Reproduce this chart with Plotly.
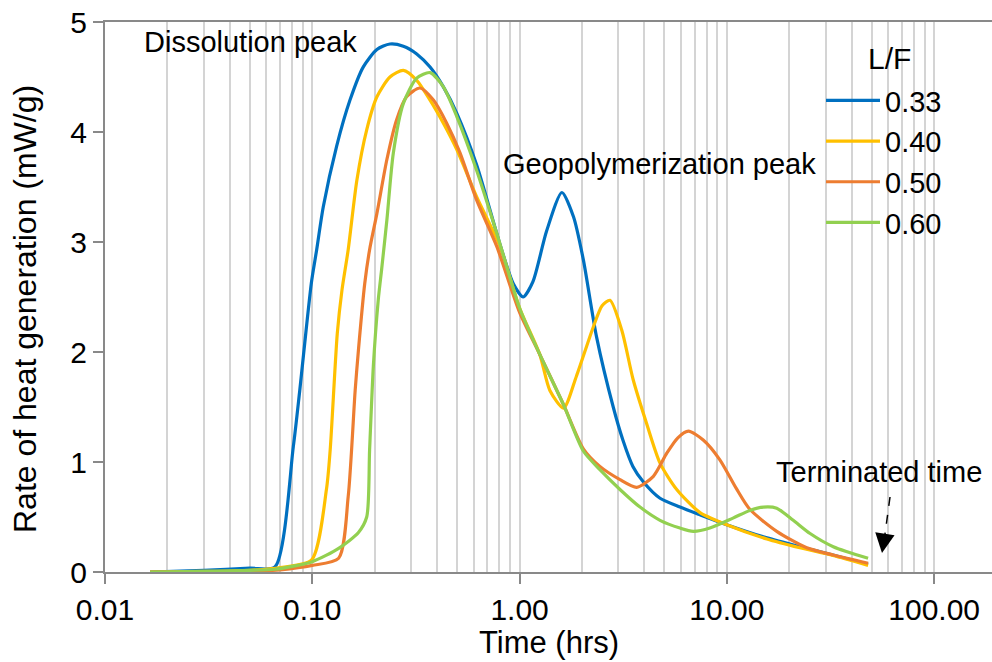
import plotly.graph_objects as go

# ---- data (time in hrs, rate in mW/g) ----
lf_labels = ["0.33", "0.40", "0.50", "0.60"]
colors = ["#0070C0", "#FFC000", "#ED7D31", "#92D050"]

t_033 = [0.0165, 0.03, 0.05, 0.066, 0.081, 0.087, 0.099, 0.105, 0.113, 0.131, 0.152, 0.176, 0.205, 0.237, 0.275,
         0.319, 0.370, 0.429, 0.498, 0.621, 0.804, 0.933, 1.04, 1.16, 1.35, 1.60, 1.82, 2.03, 2.35, 2.83, 3.15,
         3.52, 3.95, 4.76, 5.94, 7.42, 9.98, 15.6, 22.5, 32.5, 48]
y_033 = [0.0, 0.015, 0.035, 0.045, 1.14, 1.65, 2.63, 2.93, 3.32, 3.87, 4.29, 4.59, 4.75, 4.80, 4.78,
         4.71, 4.59, 4.41, 4.17, 3.70, 2.98, 2.62, 2.50, 2.64, 3.10, 3.45, 3.23, 2.84, 2.14, 1.50, 1.20,
         0.96, 0.82, 0.67, 0.59, 0.52, 0.43, 0.31, 0.23, 0.155, 0.07]

t_040 = [0.0165, 0.03, 0.05, 0.07, 0.0993, 0.117, 0.122, 0.132, 0.139, 0.149, 0.164, 0.183, 0.205, 0.237, 0.275,
         0.319, 0.370, 0.429, 0.498, 0.621, 0.804, 1.0, 1.25, 1.40, 1.63, 1.88, 2.27, 2.50, 2.73, 3.11, 3.53,
         4.10, 4.76, 5.73, 7.42, 9.98, 15.6, 22.5, 32.5, 48]
y_040 = [0.0, 0.005, 0.015, 0.04, 0.11, 0.75, 1.11, 2.17, 2.56, 2.93, 3.56, 4.02, 4.32, 4.50, 4.56,
         4.47, 4.29, 4.08, 3.84, 3.41, 2.96, 2.40, 1.98, 1.65, 1.49, 1.78, 2.23, 2.42, 2.47, 2.20, 1.75,
         1.35, 0.99, 0.75, 0.54, 0.43, 0.30, 0.22, 0.15, 0.06]

t_050 = [0.0165, 0.03, 0.05, 0.07, 0.1, 0.134, 0.149, 0.161, 0.167, 0.179, 0.189, 0.205, 0.229, 0.255, 0.285,
         0.331, 0.384, 0.445, 0.516, 0.621, 0.776, 1.0, 1.25, 1.63, 2.03, 2.44, 3.05, 3.67, 4.42, 5.13, 5.80,
         6.52, 7.69, 9.25, 11.1, 12.9, 17.4, 24.3, 32.6, 48]
y_050 = [0.0, 0.0, 0.005, 0.02, 0.06, 0.125, 0.685, 1.65, 2.02, 2.62, 2.93, 3.26, 3.75, 4.11, 4.32,
         4.40, 4.29, 4.08, 3.81, 3.38, 2.96, 2.36, 1.98, 1.52, 1.12, 0.96, 0.84, 0.77, 0.87, 1.08, 1.22,
         1.28, 1.20, 1.02, 0.76, 0.57, 0.37, 0.22, 0.155, 0.08]

t_060 = [0.0165, 0.03, 0.05, 0.066, 0.1, 0.134, 0.167, 0.183, 0.189, 0.197, 0.208, 0.216, 0.229, 0.246, 0.275,
         0.319, 0.370, 0.429, 0.498, 0.621, 0.776, 1.0, 1.25, 1.63, 2.03, 2.44, 3.05, 3.81, 4.76, 5.94, 6.89,
         8.28, 10.7, 12.9, 15.0, 17.4, 20.9, 25.2, 32.6, 48]
y_060 = [0.0, 0.005, 0.015, 0.025, 0.094, 0.215, 0.36, 0.50, 1.11, 1.87, 2.47, 2.75, 3.20, 3.81, 4.26,
         4.49, 4.54, 4.41, 4.14, 3.65, 3.08, 2.40, 1.98, 1.52, 1.10, 0.93, 0.75, 0.59, 0.47, 0.40, 0.37,
         0.40, 0.49, 0.56, 0.59, 0.58, 0.47, 0.35, 0.23, 0.125]

series_t = [t_033, t_040, t_050, t_060]
series_y = [y_033, y_040, y_050, y_060]

x_tickvals = [0.01, 0.1, 1, 10, 100]
x_ticktext = ["0.01", "0.10", "1.00", "10.00", "100.00"]
x_minor = [m * d for d in [0.01, 0.1, 1, 10] for m in range(2, 10)]
y_tickvals = [0, 1, 2, 3, 4, 5]

FONT = "Arial, Liberation Sans, sans-serif"
AXIS_COL = "#898989"
GRID_COL = "#D4D4D4"

fig = go.Figure()
for lab, col, tx, ty in zip(lf_labels, colors, series_t, series_y):
    fig.add_trace(go.Scatter(
        x=tx, y=ty, mode="lines", name=lab,
        line=dict(color=col, width=3.2, shape="spline", smoothing=0.7),
    ))

W, H = 992, 662
L, R, T, B = 105, 0, 22, 90
pw, ph = W - L - R, H - T - B


def px(xp):
    return (xp - L) / pw


def py(yp):
    return (H - B - yp) / ph


fig.update_layout(
    width=W, height=H,
    margin=dict(l=L, r=R, t=T, b=B, pad=0),
    paper_bgcolor="white", plot_bgcolor="white",
    font=dict(family=FONT, color="black", size=29),
    xaxis=dict(
        type="log", range=[-2, 2.279],
        tickvals=x_tickvals, ticktext=x_ticktext,
        tickfont=dict(size=30),
        ticks="outside", ticklen=10, tickwidth=1.5, tickcolor=AXIS_COL,
        showline=True, linecolor=AXIS_COL, linewidth=2, mirror=True,
        showgrid=True, gridcolor=GRID_COL, gridwidth=1.5,
        minor=dict(tickvals=x_minor, showgrid=True, gridcolor=GRID_COL, gridwidth=1.5, ticks=""),
        zeroline=False,
    ),
    yaxis=dict(
        range=[0, 5], tickvals=y_tickvals,
        tickfont=dict(size=30),
        ticks="outside", ticklen=10, tickwidth=1.5, tickcolor=AXIS_COL,
        showline=True, linecolor=AXIS_COL, linewidth=2,
        showgrid=False, zeroline=False,
    ),
    legend=dict(
        x=px(821), y=py(75), xanchor="left", yanchor="top",
        bgcolor="rgba(0,0,0,0)", borderwidth=0,
        font=dict(size=29), itemwidth=54,
    ),
    showlegend=True,
)

# axis titles
fig.add_annotation(x=px(549), y=py(642), xref="paper", yref="paper", text="Time (hrs)",
                   showarrow=False, xanchor="center", yanchor="middle", font=dict(size=31))
fig.add_annotation(x=-80 / pw, y=py(309), xref="paper", yref="paper", text="Rate of heat generation (mW/g)",
                   showarrow=False, xanchor="center", yanchor="middle", textangle=-90, font=dict(size=32))
# legend heading
fig.add_annotation(x=px(889), y=py(59), xref="paper", yref="paper", text="L/F",
                   showarrow=False, xanchor="center", yanchor="middle", font=dict(size=30))

fig.add_annotation(x=px(250), y=py(42), xref="paper", yref="paper", text="Dissolution peak",
                   showarrow=False, xanchor="center", yanchor="middle", font=dict(size=29))
fig.add_annotation(x=px(659.5), y=py(164), xref="paper", yref="paper", text="Geopolymerization peak",
                   showarrow=False, xanchor="center", yanchor="middle", font=dict(size=29))
fig.add_annotation(x=px(879), y=py(472), xref="paper", yref="paper", text="Terminated time",
                   showarrow=False, xanchor="center", yanchor="middle", font=dict(size=29))

# dashed arrow pointing to termination
fig.add_shape(type="line", xref="paper", yref="paper",
              x0=px(890), y0=py(497), x1=px(885), y1=py(534),
              line=dict(color="black", width=1.5, dash="dash"))
fig.add_annotation(x=px(882), y=py(553), xref="paper", yref="paper", text="",
                   showarrow=True, ax=3, ay=-20, axref="pixel", ayref="pixel",
                   arrowhead=2, arrowsize=2.6, arrowwidth=1.5, arrowcolor="black")

fig.write_html("out.html")
